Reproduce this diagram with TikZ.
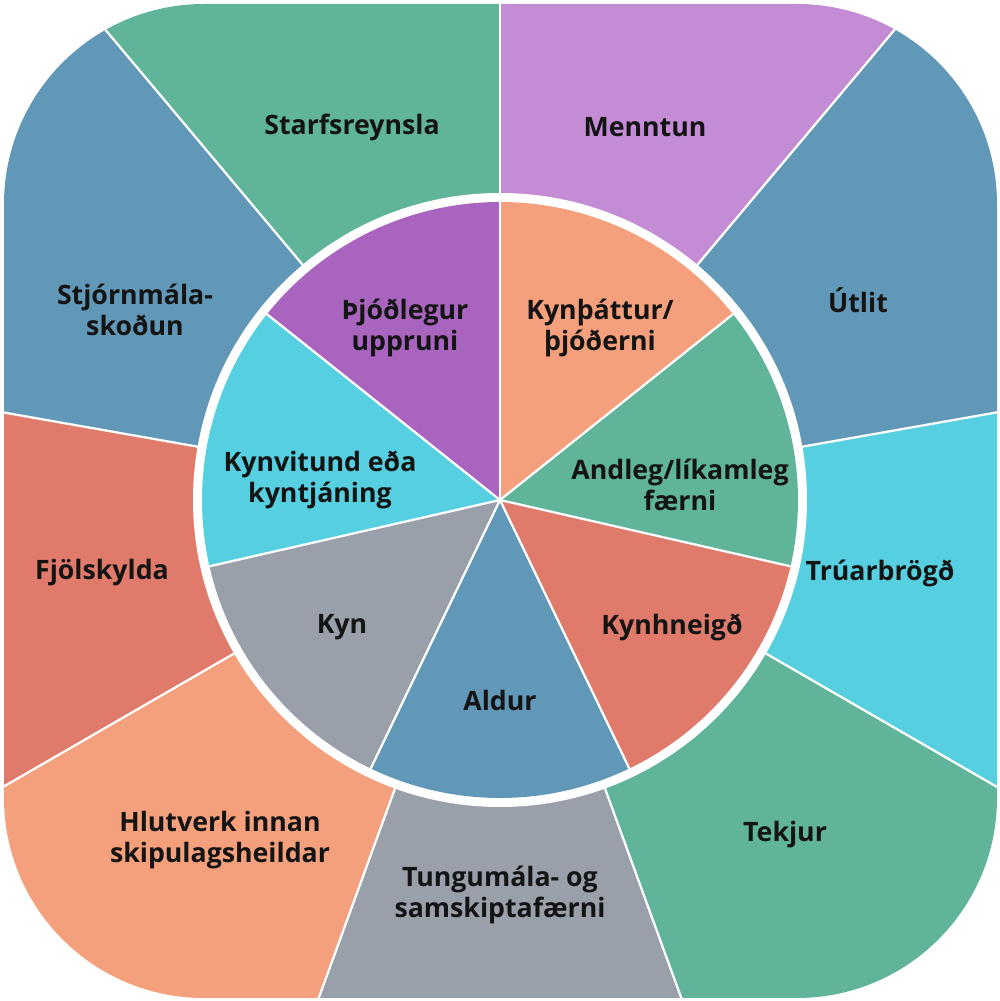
\documentclass[tikz,border=0pt]{standalone}
\usepackage{fontspec}
\setmainfont{Open Sans}
\definecolor{cgreen}{HTML}{5FB49A}
\definecolor{clav}{HTML}{C38CD4}
\definecolor{cblue}{HTML}{6198B8}
\definecolor{ccyan}{HTML}{56D0E0}
\definecolor{cgray}{HTML}{9AA0AA}
\definecolor{corange}{HTML}{F4A07C}
\definecolor{cred}{HTML}{E07B6C}
\definecolor{cpurple}{HTML}{A864BE}
\definecolor{ctext}{HTML}{141414}
\tikzset{
  lbl/.style={align=center, text=ctext, font=\fontsize{19}{22}\selectfont\bfseries},
  sep/.style={white, line width=1.6pt}
}
\begin{document}
\begin{tikzpicture}[x=0.025cm, y=0.025cm]
\useasboundingbox (0,0) rectangle (1000,1001);
\begin{scope}
\clip[rounded corners=5cm] (4,3) rectangle (997,997);
\begin{scope}[shift={(500,501)}]
% outer ring, 9 sectors of 40 degrees
\foreach \a/\c in {90/clav, 50/cblue, 10/ccyan, -30/cgreen, -70/cgray, -110/corange, -150/cred, 170/cblue, 130/cgreen}
  \fill[\c] (0,0) -- (\a:1000) -- (\a-20:1000) -- (\a-40:1000) -- cycle;
\foreach \a in {90,50,...,-230}
  \draw[sep] (0,0) -- (\a:1000);
\end{scope}
\end{scope}
\begin{scope}[shift={(500,501)}]
\fill[white] (0,0) circle (307);
% inner circle, 7 sectors
\foreach \i/\c in {0/corange, 1/cgreen, 2/cred, 3/cblue, 4/cgray, 5/ccyan, 6/cpurple}
  \fill[\c] (0,0) -- (90-\i*51.4286:298) arc (90-\i*51.4286:90-\i*51.4286-51.4286:298) -- cycle;
\foreach \i in {0,...,6}
  \draw[sep] (0,0) -- (90-\i*51.4286:298);
\end{scope}
% outer labels
\node[lbl] (starf) at (352,874) {Starfsreynsla};
\node[lbl] (mennt) at (645,874) {Menntun};
\node[lbl] (utlit) at (858,701) {Útlit};
\node[lbl] (truar) at (880,428) {Trúarbrögð};
\node[lbl] (tekj) at (785,166) {Tekjur};
\node[lbl] (tungu) at (500,106) {Tungumála- og\\samskiptafærni};
\node[lbl] (hlutv) at (220,161) {Hlutverk innan\\skipulagsheildar};
\node[lbl] (fjols) at (102,428) {Fjölskylda};
\node[lbl] (stjorn) at (135,691) {Stjórnmála-\\skoðun};
% inner labels
\node[lbl] (thjod) at (405,673) {Þjóðlegur\\uppruni};
\node[lbl] (kynth) at (600,673) {Kynþáttur/\\þjóðerni};
\node[lbl] (andl) at (680,516) {Andleg/líkamleg\\færni};
\node[lbl] (kynhn) at (672,374) {Kynhneigð};
\node[lbl] (aldur) at (500,301) {Aldur};
\node[lbl] (kyn) at (342,374) {Kyn};
\node[lbl] (kynv) at (320,521) {Kynvitund eða\\kyntjáning};
\end{tikzpicture}
\end{document}
